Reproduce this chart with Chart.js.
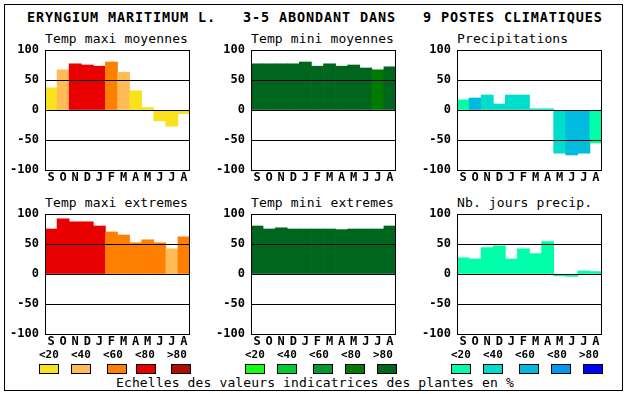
<!DOCTYPE html>
<html>
<head>
<meta charset="utf-8">
<title>Eryngium maritimum</title>
<script src="https://cdn.jsdelivr.net/npm/chart.js@4.4.0/dist/chart.umd.min.js"></script>
<style>
  html, body { margin: 0; padding: 0; background: #fff; }
  body { width: 630px; height: 394px; position: relative; overflow: hidden;
         font-family: 'DejaVu Sans Mono', monospace; color: #000; }
  #frame { position: absolute; left: 4px; top: 4px; width: 617px; height: 385px; border: 1px solid #000; }
  .abs { position: absolute; white-space: pre; }
  #title { left: 27px; top: 11.2px; font-size: 13.5px; line-height: 13px; font-weight: bold; letter-spacing: 0.87px; }
  .sub { font-size: 13px; line-height: 13px; letter-spacing: 0.12px; }
  .cls { font-size: 11px; line-height: 11px; font-weight: bold; }
  .box { position: absolute; width: 18px; height: 8px; border: 1px solid #000; }
  #foot { left: 116px; top: 375.5px; font-size: 13px; line-height: 13px; letter-spacing: 0.13px; }
  canvas { position: absolute; }
</style>
</head>
<body>
<div id="frame"></div>
<div id="title" class="abs">ERYNGIUM MARITIMUM L.   3-5 ABONDANT DANS   9 POSTES CLIMATIQUES</div>
<div id="foot" class="abs">Echelles des valeurs indicatrices des plantes en %</div>
<script>
// --- data ---
const months = ['S', 'O', 'N', 'D', 'J', 'F', 'M', 'A', 'M', 'J', 'J', 'A']
const yTicks = [-100, -50, 0, 50, 100]
const classLabels = ['<20', '<40', '<60', '<80', '>80']

// values per month, and the indicator class (0..4) that picks the bar colour
const maxiMoyennes = [37, 67, 77, 75, 73, 80, 63, 32, 4, -18, -27, -6]
const maxiMoyennesCls = [0, 1, 3, 3, 3, 2, 1, 0, 0, 0, 0, 0]
const miniMoyennes = [77, 77, 77, 77, 80, 73, 77, 73, 75, 70, 67, 72]
const miniMoyennesCls = [4, 4, 4, 4, 4, 4, 4, 4, 4, 4, 3, 4]
const precipitations = [17, 20, 25, 10, 25, 25, 2, 2, -72, -75, -72, -55]
const precipitationsCls = [0, 2, 1, 1, 1, 1, 1, 1, 1, 2, 2, 0]
const maxiExtremes = [75, 92, 87, 87, 80, 70, 65, 52, 57, 52, 42, 62]
const maxiExtremesCls = [3, 3, 3, 3, 3, 2, 2, 2, 2, 2, 1, 2]
const miniExtremes = [80, 75, 77, 75, 75, 75, 75, 74, 75, 75, 75, 80]
const miniExtremesCls = [4, 4, 4, 4, 4, 4, 4, 4, 4, 4, 4, 4]
const joursPrecip = [27, 25, 44, 47, 25, 42, 34, 54, -3, -4, 5, 4]
const joursPrecipCls = [0, 0, 0, 0, 0, 0, 0, 0, 0, 0, 0, 0]

// --- styles ---
const warm = ['#f9e11b', '#ffbb55', '#ff8000', '#e80000', '#b00c00']
const green = ['#11ff11', '#00cc33', '#009933', '#007a00', '#00661e']
const blue = ['#00ffaa', '#00ddcc', '#00bbdd', '#0099ee', '#0000ff']

const colLeft = [45, 251, 457]
const rowTop = [50, 214]
const plotW = 145
const plotH = 120
const padL = 45 // room for y labels
const padT = 12
const axisH = 22

const panels = [
  { title: 'Temp maxi moyennes', data: maxiMoyennes, cls: maxiMoyennesCls, pal: warm, col: 0, row: 0 },
  { title: 'Temp mini moyennes', data: miniMoyennes, cls: miniMoyennesCls, pal: green, col: 1, row: 0 },
  { title: 'Precipitations', data: precipitations, cls: precipitationsCls, pal: blue, col: 2, row: 0 },
  { title: 'Temp maxi extremes', data: maxiExtremes, cls: maxiExtremesCls, pal: warm, col: 0, row: 1 },
  { title: 'Temp mini extremes', data: miniExtremes, cls: miniExtremesCls, pal: green, col: 1, row: 1 },
  { title: 'Nb. jours precip.', data: joursPrecip, cls: joursPrecipCls, pal: blue, col: 2, row: 1 },
]

Chart.defaults.font.family = "'DejaVu Sans Mono', monospace"
Chart.defaults.color = '#000'

const framePlugin = {
  id: 'frame',
  afterDraw: (c) => {
    const a = c.chartArea
    const x = c.ctx
    x.save()
    x.strokeStyle = '#000'
    x.lineWidth = 1
    x.strokeRect(Math.round(a.left) + 0.5, Math.round(a.top) + 0.5,
      Math.round(a.right - a.left) - 1, Math.round(a.bottom - a.top))
    x.restore()
  },
}

const zeroPad = (s) => {
  s.paddingLeft = 0
  s.paddingRight = 0
  s.paddingTop = 0
  s.paddingBottom = 0
}

const addText = (cls, text, left, top) => {
  const d = document.createElement('div')
  d.className = 'abs ' + cls
  d.textContent = text
  d.style.left = left + 'px'
  d.style.top = top + 'px'
  document.body.appendChild(d)
}

panels.forEach((p) => {
  const left = colLeft[p.col]
  const top = rowTop[p.row]

  addText('sub', p.title, left, top - 18)

  const cv = document.createElement('canvas')
  cv.width = padL + plotW + 5
  cv.height = padT + plotH + axisH
  cv.style.left = left - padL + 'px'
  cv.style.top = top - padT + 'px'
  cv.style.width = cv.width + 'px'
  cv.style.height = cv.height + 'px'
  document.body.appendChild(cv)

  new Chart(cv, {
    type: 'bar',
    data: {
      labels: months,
      datasets: [
        {
          data: p.data,
          backgroundColor: p.cls.map((k) => p.pal[k]),
          borderWidth: 0,
          categoryPercentage: 1,
          barPercentage: 1,
        },
      ],
    },
    plugins: [framePlugin],
    options: {
      responsive: false,
      animation: false,
      devicePixelRatio: 1,
      layout: { padding: { top: padT, left: 0, right: 5, bottom: 0 } },
      plugins: { legend: { display: false }, tooltip: { enabled: false } },
      scales: {
        x: {
          grid: { display: false, drawTicks: false },
          border: { display: false },
          ticks: { font: { size: 12, weight: 'bold' }, padding: 1, maxRotation: 0, autoSkip: false },
          afterFit: (s) => {
            s.height = axisH
            zeroPad(s)
          },
        },
        y: {
          min: yTicks[0],
          max: yTicks[yTicks.length - 1],
          afterBuildTicks: (s) => {
            s.ticks = yTicks.map((v) => ({ value: v }))
          },
          grid: { color: '#000', lineWidth: 1, drawTicks: false, z: 1 },
          border: { display: false },
          ticks: { font: { size: 12, weight: 'bold' }, padding: 6 },
          afterFit: (s) => {
            s.width = padL
            zeroPad(s)
          },
        },
      },
    },
  })
})

// --- colour scales under the bottom row ---
const legendBase = [39, 245, 451]
const legendPal = [warm, green, blue]
const boxLefts = [
  [39, 71, 107, 136, 171],
  [245, 277, 313, 345, 377],
  [451, 483, 519, 551, 583],
]
legendBase.forEach((base, g) => {
  classLabels.forEach((lab, i) => {
    addText('cls', lab, base + i * 32, 348.7)
    const b = document.createElement('div')
    b.className = 'box'
    b.style.left = boxLefts[g][i] + 'px'
    b.style.top = '364px'
    b.style.background = legendPal[g][i]
    document.body.appendChild(b)
  })
})
</script>
</body>
</html>
